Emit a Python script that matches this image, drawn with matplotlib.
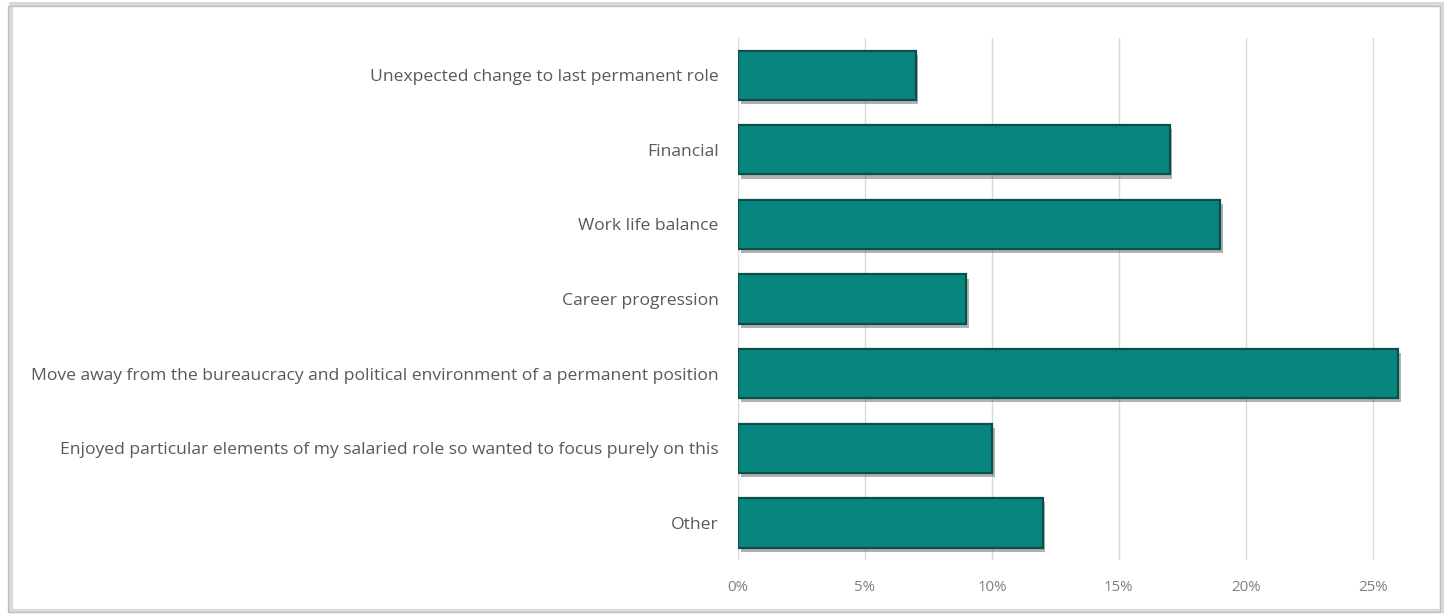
import matplotlib.pyplot as plt
import matplotlib.patches as patches
import matplotlib.patheffects as pe
from matplotlib.ticker import FuncFormatter

categories = [
    'Unexpected change to last permanent role',
    'Financial',
    'Work life balance',
    'Career progression',
    'Move away from the bureaucracy and political environment of a permanent position',
    'Enjoyed particular elements of my salaried role so wanted to focus purely on this',
    'Other',
]
shares = [0.07, 0.17, 0.19, 0.09, 0.26, 0.10, 0.12]
x_ticks = [0, 0.05, 0.10, 0.15, 0.20, 0.25]

bar_color = '#08857f'
edge_color = '#0a4f4c'
text_color = '#595959'

plt.rcParams['font.family'] = ['Open Sans', 'DejaVu Sans']

fig = plt.figure(figsize=(14.49, 6.16), dpi=100)

# outer chart frame with a soft shadow
fig.patches.append(patches.Rectangle((0.0075, 0.008), 0.988, 0.985, transform=fig.transFigure,
                                     fill=False, edgecolor='#d9d9d9', lw=3, zorder=0))
fig.patches.append(patches.Rectangle((0.0055, 0.006), 0.988, 0.985, transform=fig.transFigure,
                                     fill=False, edgecolor='#bfbfbf', lw=1, zorder=0))

ax = fig.add_axes([0.5093, 0.0905, 0.4687, 0.848])

y = list(range(len(categories)))
bars = ax.barh(y, shares, height=0.66, color=bar_color, edgecolor=edge_color, lw=1.6, zorder=3)
for b in bars:
    b.set_path_effects([pe.SimplePatchShadow(offset=(2, -3), shadow_rgbFace='#555555', alpha=0.45),
                        pe.Normal()])

ax.set_ylim(len(categories) - 0.5, -0.5)
ax.set_xlim(0, 0.2675)
ax.set_yticks(y)
ax.set_yticklabels(categories, fontsize=12.6, color=text_color)
ax.set_xticks(x_ticks)
ax.xaxis.set_major_formatter(FuncFormatter(lambda v, p: '%d%%' % round(v * 100)))
ax.tick_params(axis='x', labelsize=10.8, labelcolor='#7f7f7f', length=0, pad=14)
ax.tick_params(axis='y', length=0, pad=14)

ax.grid(axis='x', color='#d9d9d9', lw=1, zorder=0)
for s in ax.spines.values():
    s.set_visible(False)

plt.savefig('out.png', dpi=100)
